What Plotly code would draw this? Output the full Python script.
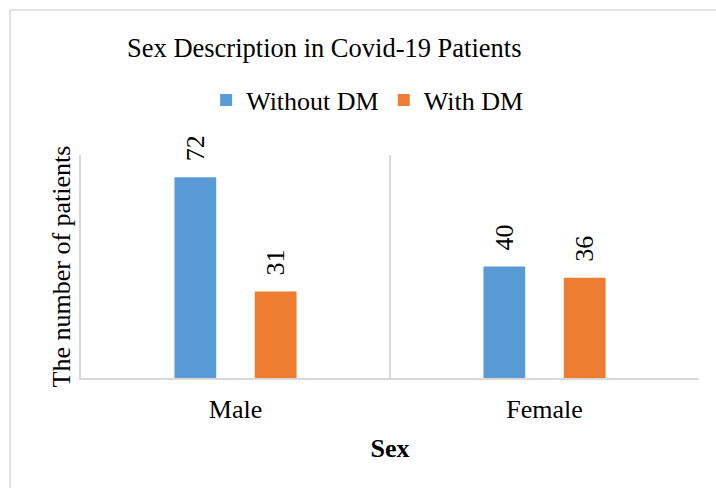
import plotly.graph_objects as go

categories = ["Male", "Female"]
without_dm = [72, 40]
with_dm = [31, 36]
series_names = ["Without DM", "With DM"]
colors = ["#5B9BD5", "#ED7D31"]

W, H = 716, 488
ML, MR, MT, MB = 81, 17, 155, 110
FONT = "Liberation Serif, Times New Roman, serif"

fig = go.Figure()
for name, vals, col in zip(series_names, [without_dm, with_dm], colors):
    fig.add_trace(go.Bar(
        x=categories, y=vals, name=name,
        marker=dict(color=col, line=dict(width=0)),
        text=vals,
        texttemplate="\u00a0\u00a0%{y}",
        textposition="outside",
        textangle=-90,
        constraintext="none",
        cliponaxis=False,
        textfont=dict(family=FONT, size=26, color="#000000"),
    ))

pw = W - ML - MR
ph = H - MT - MB
fig.add_shape(type="rect", xref="paper", yref="paper",
              x0=(10 - ML) / pw, x1=(W + 5 - ML) / pw,
              y0=-(H + 5 - (H - MB)) / ph, y1=1 + (MT - 10) / ph,
              line=dict(color="#d9d9d9", width=1.5), layer="below")

fig.update_layout(
    width=W, height=H,
    margin=dict(l=ML, r=MR, t=MT, b=MB, autoexpand=False),
    paper_bgcolor="white", plot_bgcolor="white",
    barmode="group", bargap=0.48, bargroupgap=0.48,
    font=dict(family=FONT, size=26, color="#000000"),
    title=dict(text="Sex Description in Covid-19 Patients",
               font=dict(family=FONT, size=26.5, color="#000000"),
               x=127 / W, xanchor="left", xref="container",
               y=1 - 48 / H, yanchor="middle", yref="container"),
    legend=dict(orientation="h", x=0.463, xanchor="center",
                y=1 + (MT - 100) / ph, yanchor="middle",
                font=dict(family=FONT, size=26, color="#000000"),
                itemclick=False, bgcolor="rgba(0,0,0,0)"),
    showlegend=True,
)
fig.update_xaxes(
    type="category", tickson="boundaries", showgrid=True,
    gridcolor="#d9d9d9", gridwidth=1.5,
    showline=True, linecolor="#d9d9d9", linewidth=1.5,
    ticks="", ticklabelstandoff=7,
    tickfont=dict(family=FONT, size=26, color="#000000"),
    title=dict(text="<b>Sex</b>", font=dict(family=FONT, size=26, color="#000000"), standoff=16),
    automargin=False,
)
fig.update_yaxes(
    range=[0, 80], showgrid=False, zeroline=False,
    showticklabels=False, ticks="",
    showline=True, linecolor="#d9d9d9", linewidth=1.5,
    title=dict(text="The number of patients", font=dict(family=FONT, size=26, color="#000000"), standoff=1),
    automargin=False,
)

fig.write_html("out.html", config={"displayModeBar": False},
               post_script="document.body.style.margin='0';document.body.style.overflow='hidden';")
